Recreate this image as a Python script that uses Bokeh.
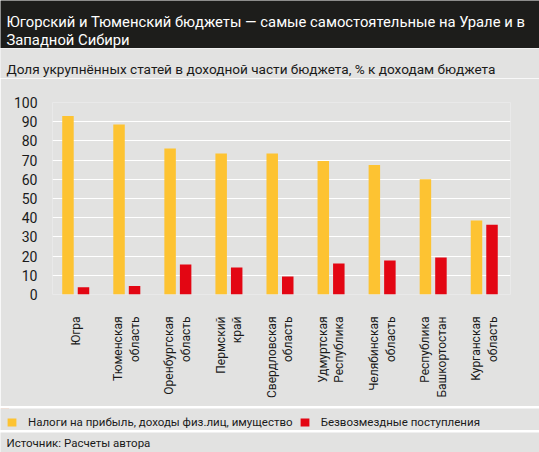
from math import pi

from bokeh.embed import file_html
from bokeh.layouts import column
from bokeh.models import (ColumnDataSource, FixedTicker, Label, Legend,
                          LegendItem, Range1d)
from bokeh.plotting import figure
from bokeh.resources import INLINE
from bokeh.transform import dodge

# --- data ---
regions = ["Югра", "Тюменская\nобласть", "Оренбургская\nобласть",
           "Пермский\nкрай", "Свердловская\nобласть", "Удмуртская\nРеспублика",
           "Челябинская\nобласть", "Республика\nБашкортостан",
           "Курганская\nобласть"]
taxes = [93, 88.5, 76, 73.5, 73.5, 69.5, 67.5, 60, 38.5]
transfers = [3.8, 4.4, 15.6, 14.1, 9.4, 16.1, 17.7, 19.3, 36.3]
y_ticks = [0, 10, 20, 30, 40, 50, 60, 70, 80, 90, 100]

series_names = ["Налоги на прибыль, доходы физ.лиц, имущество",
                "Безвозмездные поступления"]
title_lines = ["Югорский и Тюменский бюджеты — самые самостоятельные на Урале и в",
               "Западной Сибири"]
subtitle = "Доля укрупнённых статей в доходной части бюджета, % к  доходам бюджета"
source_note = "Источник: Расчеты автора"

FONT = "Roboto"
W = 539
BG = "#e2e2e1"
DARK = "#1d1d1b"
YELLOW = "#fdc332"
RED = "#e30613"
TEXT = "#1a1a1a"

src = ColumnDataSource(data=dict(x=list(range(len(regions))), taxes=taxes,
                                 transfers=transfers))


def band(height, fill):
    """Plain strip whose data units are pixels (origin bottom-left)."""
    p = figure(width=W, height=height, x_range=Range1d(0, W),
               y_range=Range1d(0, height), min_border=0, frame_align=False,
               x_axis_location=None, y_axis_location=None,
               toolbar_location=None, output_backend="svg")
    p.background_fill_color = fill
    p.border_fill_color = fill
    p.outline_line_color = None
    p.grid.visible = False
    return p


def note(p, txt, x, y, size, color=TEXT):
    p.add_layout(Label(x=x, y=y, text=txt, text_color=color,
                       text_font=FONT, text_font_size=size,
                       text_baseline="alphabetic"))


# header
header = band(48, DARK)
note(header, title_lines[0], 6, 26.5, "14.8px", "white")
note(header, title_lines[1], 6, 9, "14.8px", "white")

# subtitle
sub = band(30, BG)
note(sub, subtitle, 6, 10, "13.6px")

# main chart
p = figure(width=W, height=328, x_range=Range1d(-0.455, 8.514),
           y_range=Range1d(0, 100), min_border_left=52, min_border_right=29,
           min_border_top=24, min_border_bottom=112, frame_align=False,
           toolbar_location=None, output_backend="svg")
p.background_fill_color = BG
p.border_fill_color = BG
p.outline_line_color = None

p.vbar(x=dodge("x", -0.152), top="taxes", width=0.225, source=src,
       fill_color=YELLOW, line_color=None)
p.vbar(x=dodge("x", 0.152), top="transfers", width=0.225, source=src,
       fill_color=RED, line_color=None)

p.xgrid.grid_line_color = None
p.ygrid.grid_line_color = "white"
p.ygrid.grid_line_width = 1.2

p.yaxis.ticker = FixedTicker(ticks=y_ticks)
p.xaxis.ticker = FixedTicker(ticks=list(range(len(regions))))
p.xaxis.major_label_overrides = {i: r for i, r in enumerate(regions)}
p.xaxis.major_label_orientation = pi / 2
p.xaxis.major_label_standoff = 16
p.yaxis.major_label_standoff = 9
for ax in (p.xaxis, p.yaxis):
    ax.axis_line_color = None
    ax.major_tick_line_color = None
    ax.minor_tick_line_color = None
    ax.major_label_text_font = FONT
    ax.major_label_text_color = TEXT
p.yaxis.major_label_text_font_size = "14px"
p.xaxis.major_label_text_font_size = "12px"


def rule():
    return band(2, "#f4f4f3")


# legend strip (renderers share the data, kept out of this strip's view)
leg = band(22, BG)
leg.y_range = Range1d(-2, -1)
r_tax = leg.vbar(x="x", top="taxes", width=0.225, source=src,
                 fill_color=YELLOW, line_color=None)
r_tr = leg.vbar(x="x", top="transfers", width=0.225, source=src,
                fill_color=RED, line_color=None)
legend = Legend(items=[LegendItem(label=series_names[0], renderers=[r_tax]),
                       LegendItem(label=series_names[1], renderers=[r_tr])],
                orientation="horizontal", location=(6, 1), margin=0, padding=0,
                spacing=6, glyph_width=11, glyph_height=10, label_standoff=11,
                label_height=14, label_text_font=FONT,
                label_text_font_size="11.5px", label_text_color=TEXT,
                background_fill_alpha=0, border_line_color=None)
leg.add_layout(legend, "center")

# source note
foot = band(20, BG)
note(foot, source_note, 6, 10, "11.5px")

layout = column(header, sub, p, rule(), leg, rule(), foot, spacing=0)

open("out.html", "w").write(file_html(layout, INLINE))
